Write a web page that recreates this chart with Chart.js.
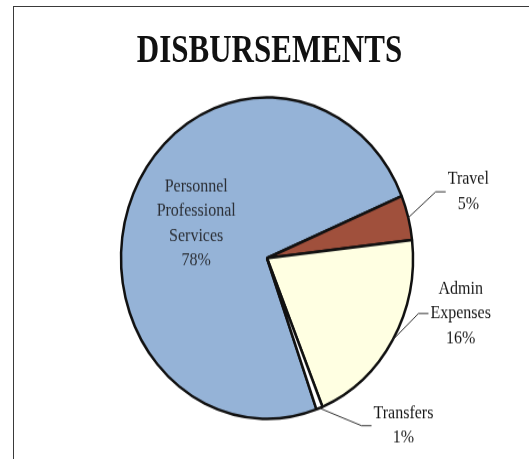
<!DOCTYPE html>
<html>
<head>
<meta charset="utf-8">
<script src="https://cdn.jsdelivr.net/npm/chart.js@4/dist/chart.umd.min.js"></script>
<style>
  html, body { margin: 0; padding: 0; background: #fff; width: 529px; height: 459px; overflow: hidden; }
  #frame { position: absolute; left: 13px; top: 6px; width: 530px; height: 470px;
           border-left: 1px solid #3a3a3a; border-top: 1px solid #3a3a3a; }
  /* the scanned chart is a bit taller than wide, so stretch everything a little */
  #wrap { position: absolute; left: 0; top: 0; width: 529px; height: 417px;
          transform: scaleY(1.1007); transform-origin: 0 0; }
  #title { position: absolute; left: 5px; top: 28px; width: 529px; text-align: center;
           font: bold 31px "Liberation Serif", "Times New Roman", serif; line-height: 31px; color: #111;
           transform: scaleY(1.2); transform-origin: 50% 16px; }
  canvas { position: absolute; left: 0; top: 0; }
</style>
</head>
<body>
<div id="frame"></div>
<div id="wrap">
  <div id="title">DISBURSEMENTS</div>
  <canvas id="pieChart" width="529" height="417"></canvas>
</div>
<script>
// categories and values (slice sizes, label texts as printed)
const categories = ['Personnel Professional Services', 'Travel', 'Admin Expenses', 'Transfers']
const sliceValues = [74.2, 4.5, 20.6, 0.7]
const percentLabels = ['78%', '5%', '16%', '1%']
const sliceColors = ['#95b3d7', '#a0503c', '#ffffe2', '#ffffff']

// where each label sits: inside at a fraction of the radius, or outside with a leader line
const labelPlacement = [
  { inside: true, r: 0.53 },
  { dx: 60, dy: -23.5 },
  { dx: 68, dy: -24 },
  { dx: 84, dy: 16 }
]

// Plugin that writes the slice labels and leader lines
const sliceLabels = {
  id: 'sliceLabels',
  afterDatasetsDraw(chart) {
    const ctx = chart.ctx
    const meta = chart.getDatasetMeta(0)
    const lineH = 22.5
    ctx.save()
    ctx.font = '16px "Liberation Serif", "Times New Roman", serif'
    ctx.textAlign = 'center'
    ctx.textBaseline = 'middle'
    meta.data.forEach((arc, i) => {
      const p = arc.getProps(['x', 'y', 'startAngle', 'endAngle', 'outerRadius'], true)
      const mid = (p.startAngle + p.endAngle) / 2
      const place = labelPlacement[i]
      const lines = [...categories[i].split(' '), percentLabels[i]]
      let cx, cy
      if (place.inside) {
        cx = p.x + Math.cos(mid) * p.outerRadius * place.r
        cy = p.y + Math.sin(mid) * p.outerRadius * place.r
        ctx.fillStyle = '#2b2f36'
      } else {
        const ex = p.x + Math.cos(mid) * p.outerRadius
        const ey = p.y + Math.sin(mid) * p.outerRadius
        cx = ex + place.dx
        cy = ey + place.dy
        const widest = Math.max(...lines.map(l => ctx.measureText(l).width))
        const endX = cx - widest / 2 - 2
        // leader line: from the slice edge to an elbow, then a short flat piece
        ctx.strokeStyle = '#333'
        ctx.lineWidth = 1
        ctx.beginPath()
        ctx.moveTo(ex, ey)
        ctx.lineTo(endX - 10, cy)
        ctx.lineTo(endX, cy)
        ctx.stroke()
        ctx.fillStyle = '#161616'
      }
      const top = cy - (lines.length - 1) * lineH / 2
      lines.forEach((l, k) => ctx.fillText(l, cx, top + k * lineH))
    })
    ctx.restore()
  }
}

const ctx = document.getElementById('pieChart').getContext('2d')
new Chart(ctx, {
  type: 'pie',
  data: {
    labels: categories,
    datasets: [{
      data: sliceValues,
      backgroundColor: sliceColors,
      borderColor: '#111',
      borderWidth: 2.5,
      hoverOffset: 0,
      radius: 146
    }]
  },
  options: {
    responsive: false,
    animation: false,
    rotation: 160.2,
    layout: { padding: { left: 20, right: 15, top: 60, bottom: 8 } },
    plugins: {
      legend: { display: false },
      tooltip: { enabled: false }
    }
  },
  plugins: [sliceLabels]
})
</script>
</body>
</html>
